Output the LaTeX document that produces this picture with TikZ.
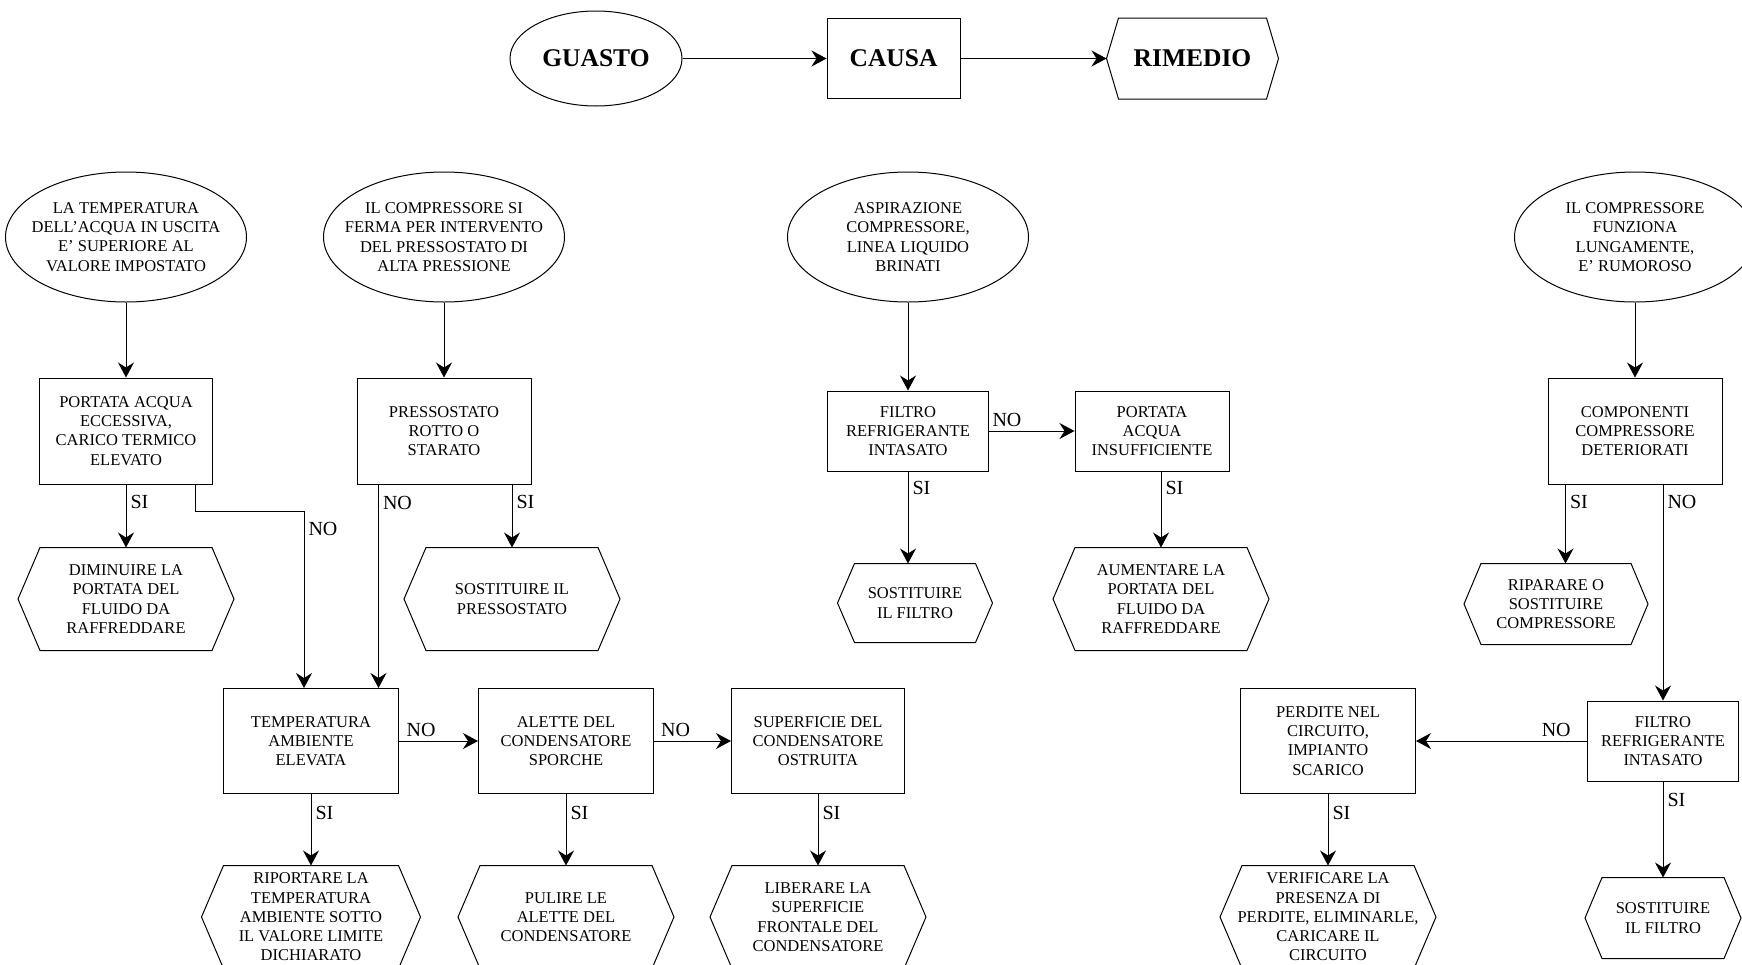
\documentclass[tikz,border=0pt]{standalone}
\usepackage{fontspec}
\setmainfont{Liberation Serif}
\usetikzlibrary{shapes.geometric,arrows.meta}

\tikzset{
	fault/.style={ellipse, draw, minimum width=241pt, minimum height=130pt, inner xsep=-20pt, inner ysep=0pt, align=center, font=\fontsize{16.5}{19.3}\selectfont},
	cause/.style={rectangle, draw, minimum width=174pt, minimum height=106pt, inner sep=2pt, align=center, font=\fontsize{16.5}{19.3}\selectfont},
	remedy/.style={rectangle, minimum width=215pt, minimum height=102pt, inner sep=2pt, align=center, font=\fontsize{16.5}{19.3}\selectfont,
		append after command={\pgfextra{\draw ([xshift=#1]\tikzlastnode.north west) -- ([xshift=-#1]\tikzlastnode.north east) -- (\tikzlastnode.east) -- ([xshift=-#1]\tikzlastnode.south east) -- ([xshift=#1]\tikzlastnode.south west) -- (\tikzlastnode.west) -- cycle;}}},
	remedy/.default=22pt,
	title/.style={font=\fontsize{25.5}{30}\selectfont\bfseries},
	lbl/.style={font=\fontsize{20}{24}\selectfont, inner sep=4pt},
	arr/.style={-{Stealth[length=15pt,width=16pt,inset=5pt]}}
}

\begin{document}
\begin{tikzpicture}[x=1pt, y=-1pt, line width=1pt]
			\useasboundingbox (0,0) rectangle (1742,964);
			\node[fault, title, minimum width=172pt, minimum height=95pt] (guasto) at (596,58.5) {GUASTO};
			\node[cause, title, minimum width=133pt, minimum height=80pt] (causa) at (893.5,58.5) {CAUSA};
			\node[remedy=12pt, title, minimum width=171pt, minimum height=80pt] (rimedio) at (1192.5,58.5) {RIMEDIO};
			\draw[arr] (guasto) edge (causa) (causa) edge (rimedio);

			\node[fault] (g1) at (126,237) {LA TEMPERATURA\\DELL’ACQUA IN USCITA\\E’ SUPERIORE AL\\VALORE IMPOSTATO};
			\node[fault] (g2) at (444,237) {IL COMPRESSORE SI\\FERMA PER INTERVENTO\\DEL PRESSOSTATO DI\\ALTA PRESSIONE};
			\node[fault] (g3) at (908,237) {ASPIRAZIONE\\COMPRESSORE,\\LINEA LIQUIDO\\BRINATI};
			\node[fault] (g4) at (1635,237) {IL COMPRESSORE\\FUNZIONA\\LUNGAMENTE,\\E’ RUMOROSO};

			\node[cause, minimum width=173pt] (c1) at (126,431) {PORTATA ACQUA\\ECCESSIVA,\\CARICO TERMICO\\ELEVATO};
			\node[cause] (c2) at (444,431) {PRESSOSTATO\\ROTTO O\\STARATO};
			\node[cause, minimum width=161pt, minimum height=80pt] (c3) at (908,431) {FILTRO\\REFRIGERANTE\\INTASATO};
			\node[cause, minimum width=154pt, minimum height=80pt] (c4) at (1152,431) {PORTATA\\ACQUA\\INSUFFICIENTE};
			\node[cause] (c5) at (1635,431) {COMPONENTI\\COMPRESSORE\\DETERIORATI};

			\node[remedy] (r1) at (126,599) {DIMINUIRE LA\\PORTATA DEL\\FLUIDO DA\\RAFFREDDARE};
			\node[remedy] (r2) at (512,599) {SOSTITUIRE IL\\PRESSOSTATO};
			\node[remedy=17pt, minimum width=154pt, minimum height=78pt] (r3) at (915,603) {SOSTITUIRE\\IL FILTRO};
			\node[remedy] (r4) at (1161,599) {AUMENTARE LA\\PORTATA DEL\\FLUIDO DA\\RAFFREDDARE};
			\node[remedy=17pt, minimum width=183pt, minimum height=80pt] (r5) at (1556,604) {RIPARARE O\\SOSTITUIRE\\COMPRESSORE};

			\node[cause, minimum width=175pt, minimum height=105pt] (c6) at (311,741) {TEMPERATURA\\AMBIENTE\\ELEVATA};
			\node[cause, minimum width=175pt, minimum height=105pt] (c7) at (566,741) {ALETTE DEL\\CONDENSATORE\\SPORCHE};
			\node[cause, minimum width=173pt, minimum height=105pt] (c8) at (818,741) {SUPERFICIE DEL\\CONDENSATORE\\OSTRUITA};
			\node[cause, minimum width=175pt, minimum height=105pt] (c9) at (1328,741) {PERDITE NEL\\CIRCUITO,\\IMPIANTO\\SCARICO};
			\node[cause, minimum width=151pt, minimum height=80pt] (c10) at (1663,741) {FILTRO\\REFRIGERANTE\\INTASATO};

			\node[remedy, minimum width=218pt] (r6) at (311,917) {RIPORTARE LA\\TEMPERATURA\\AMBIENTE SOTTO\\IL VALORE LIMITE\\DICHIARATO};
			\node[remedy] (r7) at (566,917) {PULIRE LE\\ALETTE DEL\\CONDENSATORE};
			\node[remedy] (r8) at (818,917) {LIBERARE LA\\SUPERFICIE\\FRONTALE DEL\\CONDENSATORE};
			\node[remedy] (r9) at (1328,917) {VERIFICARE LA\\PRESENZA DI\\PERDITE, ELIMINARLE,\\CARICARE IL\\CIRCUITO};
			\node[remedy=17pt, minimum width=155pt, minimum height=80pt] (r10) at (1663,918) {SOSTITUIRE\\IL FILTRO};

			\draw[arr] (g1) edge (c1) (c1) edge node[lbl, right, pos=0.27] {SI} (r1);
			\draw[arr] ([xshift=-18pt]c1.south east) -- ++(0,27) -| node[lbl, right, pos=0.55] {NO} ([xshift=-7pt]c6.north);
			\draw[arr] (g2) edge (c2);
			\draw[arr] ([xshift=22pt]c2.south west) -- node[lbl, right, pos=0.09] {NO} ([xshift=22pt]c2.south west |- c6.north);
			\draw[arr] (c2.south -| r2.north) -- node[lbl, right, pos=0.28] {SI} (r2.north);
			\draw[arr] (c6) edge node[lbl, above, pos=0.28] {NO} (c7) (c7) edge node[lbl, above, pos=0.28] {NO} (c8);
			\draw[arr] (c6) edge node[lbl, right, pos=0.26] {SI} (r6) (c7) edge node[lbl, right, pos=0.26] {SI} (r7) (c8) edge node[lbl, right, pos=0.26] {SI} (r8);

			\draw[arr] (g3) edge (c3) (c3) edge node[lbl, above, pos=0.21] {NO} (c4);
			\draw[arr] (c3.south) -- node[lbl, right, pos=0.18] {SI} (c3.south |- r3.north);
			\draw[arr] (c4.south -| r4.north) -- node[lbl, right, pos=0.22] {SI} (r4.north);

			\draw[arr] (g4) edge (c5);
			\draw[arr] ([xshift=18pt]c5.south west) -- node[lbl, right, pos=0.22] {SI} ([xshift=18pt]c5.south west |- r5.north);
			\draw[arr] (c5.south -| c10.north) -- node[lbl, right, pos=0.08] {NO} (c10.north);
			\draw[arr] (c10) edge node[lbl, above, pos=0.18] {NO} (c9) (c10) edge node[lbl, right, pos=0.19] {SI} (r10);
			\draw[arr] (c9) edge node[lbl, right, pos=0.26] {SI} (r9);
		\end{tikzpicture}
\end{document}
